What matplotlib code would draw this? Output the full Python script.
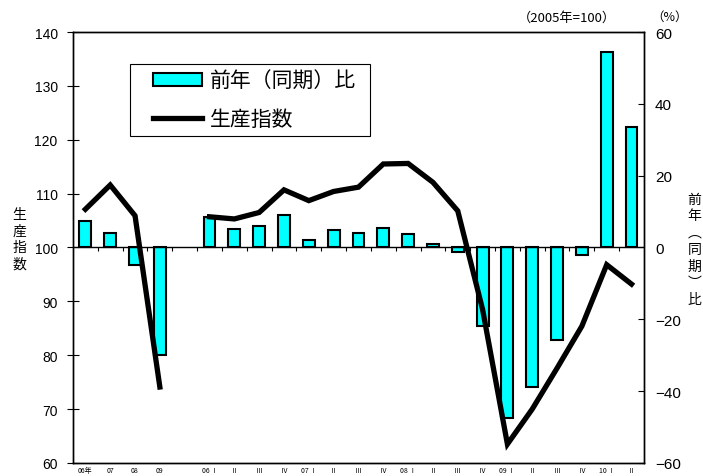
import matplotlib.pyplot as plt
from matplotlib.patches import Rectangle
import numpy as np

plt.rcParams['font.family'] = ['Noto Sans CJK JP', 'DejaVu Sans']

# 年次（06年〜09年）
year_labels = ['06年', '07', '08', '09']
year_index = [107.1, 111.6, 105.9, 74.1]
year_yoy = [7.3, 4.0, -4.9, -29.9]

# 四半期（06 I 〜 10 II）
q_labels = ['06 Ⅰ', 'Ⅱ', 'Ⅲ', 'Ⅳ', '07 Ⅰ', 'Ⅱ', 'Ⅲ', 'Ⅳ', '08 Ⅰ', 'Ⅱ', 'Ⅲ', 'Ⅳ',
            '09 Ⅰ', 'Ⅱ', 'Ⅲ', 'Ⅳ', '10 Ⅰ', 'Ⅱ']
q_index = [105.7, 105.3, 106.5, 110.7, 108.7, 110.4, 111.2, 115.5, 115.6, 112.1,
           106.8, 88.5, 63.5, 70.0, 77.6, 85.4, 96.8, 93.2]
q_yoy = [8.6, 5.1, 5.9, 9.0, 2.2, 5.0, 4.0, 5.3, 3.8, 1.0, -1.2, -21.9,
         -47.5, -38.9, -25.7, -2.0, 54.4, 33.5]

x_year = np.arange(len(year_labels))
x_q = np.arange(len(q_labels)) + len(year_labels) + 1
n_slots = len(year_labels) + 1 + len(q_labels)

fig = plt.figure(figsize=(7.03, 4.77), dpi=100)
ax = fig.add_axes([0.1038, 0.0273, 0.8122, 0.9035])
ax2 = ax.twinx()

# 前年(同期)比 -> 右軸
bar_kw = dict(width=0.48, color='#00FFFF', edgecolor='black', linewidth=1.5)
bars = ax2.bar(x_year, year_yoy, **bar_kw)
ax2.bar(x_q, q_yoy, **bar_kw)
ax2.set_ylim(-60, 60)
ax2.set_yticks(range(-60, 61, 20))

# 生産指数 -> 左軸
line, = ax.plot(x_year, year_index, color='black', lw=3.8, solid_joinstyle='miter')
ax.plot(x_q, q_index, color='black', lw=3.8, solid_joinstyle='miter')
ax.set_ylim(60, 140)
ax.set_yticks(range(60, 141, 10))
ax.set_xlim(-0.5, n_slots - 0.5)

ax.set_zorder(ax2.get_zorder() + 1)
ax.patch.set_visible(False)

# ゼロ線と区切り目盛
ax.axhline(100, color='black', lw=1.0, zorder=1)
bounds = np.arange(0.5, n_slots - 1, 1.0)
ax.vlines(bounds, 99.4, 100, color='black', lw=0.8)

ax.set_xticks(list(x_year) + list(x_q))
ax.set_xticklabels(year_labels + q_labels, fontsize=5)
ax.tick_params(axis='x', length=0, pad=2.5)
ax.tick_params(axis='y', direction='inout', length=8, pad=7, labelsize=10)
ax2.tick_params(axis='y', direction='in', length=4, pad=8, labelsize=11)
for t in ax.get_yticklabels() + ax2.get_yticklabels():
    t.set_family('Liberation Sans')

for a in (ax, ax2):
    for s in a.spines.values():
        s.set_linewidth(1.0)

fig.text(0.028, 0.497, '生\n産\n指\n数', fontsize=10, ha='center', va='center',
         linespacing=1.25)
fig.text(0.988, 0.476, '前\n年\n︵\n同\n期\n︶\n比', fontsize=10, ha='center',
         va='center', linespacing=1.25)
fig.text(0.807, 0.962, '（2005年=100）', fontsize=9.5, ha='center', va='center')
fig.text(0.952, 0.964, '（%）', fontsize=9, ha='center', va='center')

# 凡例（枠は別に描く）
ax.add_patch(Rectangle((0.0998, 0.7587), 0.4205, 0.1671, transform=ax.transAxes,
                       fill=False, edgecolor='black', lw=0.8, zorder=5))
leg = ax.legend([bars, line], ['前年（同期）比', '生産指数'], loc='upper left',
                bbox_to_anchor=(0.140, 0.912), fontsize=15, frameon=False,
                handlelength=2.35, handleheight=0.6, borderpad=0,
                labelspacing=0.75, handletextpad=0.38, borderaxespad=0)

fig.savefig('out.png', dpi=100)
